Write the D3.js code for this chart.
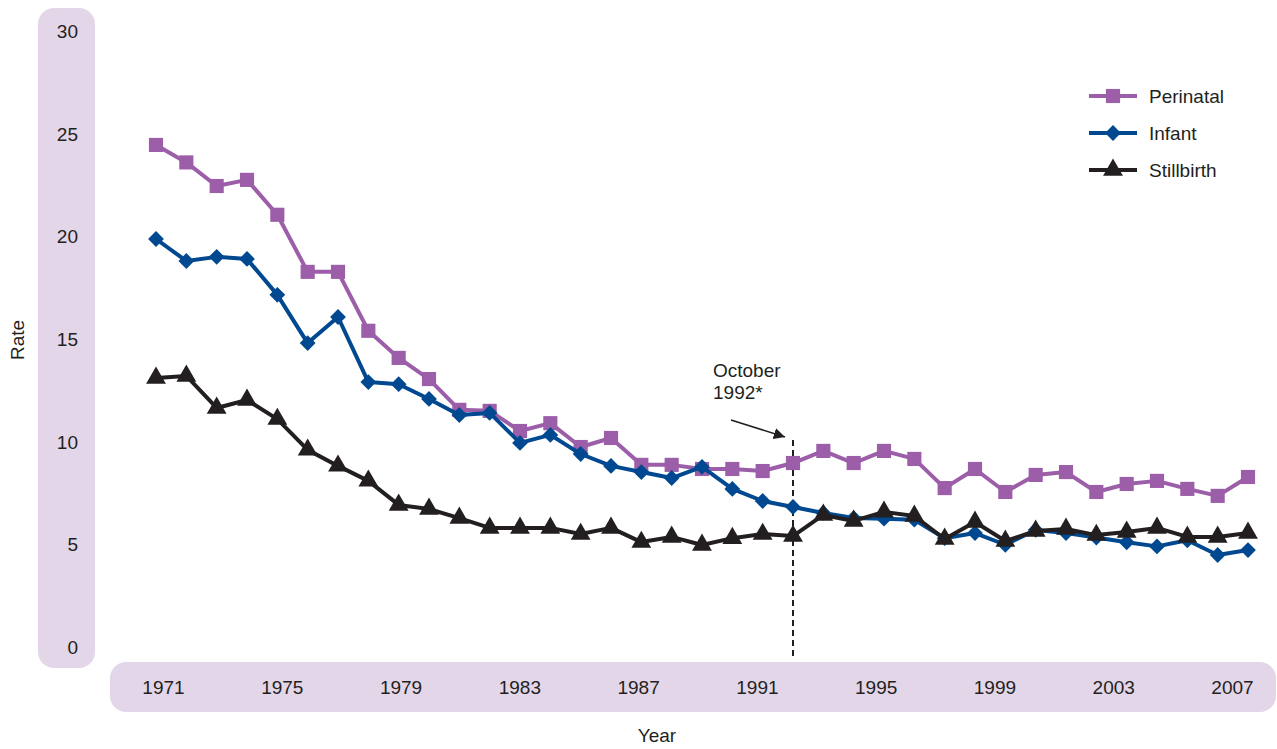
<!DOCTYPE html>
<html>
<head>
<meta charset="utf-8">
<script src="https://cdn.jsdelivr.net/npm/d3@7"></script>
<style>
  body { margin: 0; background: #fff; }
  text { font-family: "Liberation Sans", Arial, sans-serif; fill: #231f20; }
</style>
</head>
<body>
<svg id="chart" width="1277" height="749"></svg>
<script>
// ---- data ----
const years = d3.range(1971, 2008);
const perinatal = [24.45, 23.6, 22.45, 22.75, 21.05, 18.27, 18.27, 15.4, 14.08, 13.05,
  11.55, 11.5, 10.52, 10.9, 9.74, 10.18, 8.87, 8.87, 8.67, 8.67,
  8.57, 8.96, 9.55, 8.96, 9.55, 9.16, 7.74, 8.67, 7.55, 8.38,
  8.52, 7.55, 7.94, 8.09, 7.7, 7.36, 8.28];
const infant = [19.87, 18.8, 19.0, 18.9, 17.15, 14.8, 16.07, 12.9, 12.8, 12.08,
  11.3, 11.4, 9.94, 10.33, 9.4, 8.82, 8.52, 8.23, 8.77, 7.7,
  7.11, 6.82, 6.53, 6.28, 6.25, 6.2, 5.3, 5.55, 4.98, 5.7,
  5.55, 5.33, 5.1, 4.9, 5.2, 4.48, 4.72];
const stillbirth = [13.1, 13.2, 11.64, 12.03, 11.1, 9.6, 8.82, 8.09, 6.92, 6.72,
  6.28, 5.8, 5.8, 5.8, 5.5, 5.8, 5.11, 5.36, 4.97, 5.3,
  5.5, 5.4, 6.43, 6.14, 6.58, 6.38, 5.26, 6.09, 5.16, 5.65,
  5.75, 5.45, 5.6, 5.8, 5.36, 5.36, 5.55];
const yTicks = [0, 5, 10, 15, 20, 25, 30];
const xTicks = [1971, 1975, 1979, 1983, 1987, 1991, 1995, 1999, 2003, 2007];
const markerYear = 1992;

const diamond = { draw: function(ctx, size) {
  let r = Math.sqrt(size / 2);
  ctx.moveTo(0, -r); ctx.lineTo(r, 0); ctx.lineTo(0, r); ctx.lineTo(-r, 0); ctx.closePath();
} };

const series = [
  { name: "Perinatal", values: perinatal, color: "#9c5ea8", symbol: d3.symbolSquare, size: 200 },
  { name: "Infant", values: infant, color: "#004990", symbol: diamond, size: 125 },
  { name: "Stillbirth", values: stillbirth, color: "#231f20", symbol: d3.symbolTriangle, size: 170 }
];

const svg = d3.select("#chart");
const band = "#e3d6e9";
const font = "'Liberation Sans', Arial, sans-serif";

let x = d3.scaleLinear().domain([1971, 2007]).range([156, 1248]);
// tick labels sit on a slightly narrower spacing than the data points
let xLabel = d3.scaleLinear().domain([1971, 2007]).range([163, 1232]);
let y = d3.scaleLinear().domain([0, 30]).range([647, 31]);

// axis bands
svg.append("rect").attr("x", 38).attr("y", 8).attr("width", 57).attr("height", 660)
  .attr("rx", 16).attr("fill", band);
svg.append("rect").attr("x", 110).attr("y", 662).attr("width", 1166).attr("height", 50)
  .attr("rx", 16).attr("fill", band);

// y axis
let yAxis = svg.append("g").attr("transform", "translate(78,0)")
  .call(d3.axisLeft(y).tickValues(yTicks).tickSize(0).tickPadding(0));
yAxis.select(".domain").remove();
yAxis.selectAll("text").style("font-size", "19px").attr("dy", "0.35em")
  .style("font-family", font).attr("fill", "#231f20");

// x axis
let xAxis = svg.append("g").attr("transform", "translate(0,687)")
  .call(d3.axisBottom(xLabel).tickValues(xTicks).tickFormat(d3.format("d")).tickSize(0).tickPadding(0));
xAxis.select(".domain").remove();
xAxis.selectAll("text").style("font-size", "19px").attr("dy", "0.35em")
  .style("font-family", font).attr("fill", "#231f20");

// axis titles
svg.append("text").attr("transform", "translate(24,340) rotate(-90)")
  .attr("text-anchor", "middle").style("font-size", "19px").text("Rate");
svg.append("text").attr("x", 657).attr("y", 742)
  .attr("text-anchor", "middle").style("font-size", "19px").text("Year");

// October 1992 marker
svg.append("line").attr("x1", x(markerYear)).attr("x2", x(markerYear))
  .attr("y1", 440).attr("y2", 660)
  .attr("stroke", "#231f20").attr("stroke-width", 2).attr("stroke-dasharray", "6,4");
svg.append("defs").append("marker").attr("id", "arrow")
  .attr("viewBox", "0 0 10 10").attr("refX", 10).attr("refY", 5)
  .attr("markerWidth", 7).attr("markerHeight", 7).attr("orient", "auto")
  .append("path").attr("d", "M0,0L10,5L0,10z").attr("fill", "#231f20");
svg.append("line").attr("x1", 731).attr("y1", 420).attr("x2", x(markerYear) - 8).attr("y2", 437)
  .attr("stroke", "#231f20").attr("stroke-width", 1.6).attr("marker-end", "url(#arrow)");
svg.append("text").attr("x", 713).attr("y", 377).style("font-size", "19px").text("October");
svg.append("text").attr("x", 713).attr("y", 399).style("font-size", "19px").text("1992*");

// lines
const line = d3.line().x((d, i) => x(years[i])).y(d => y(d));

series.forEach(function(s) {
  svg.append("path").datum(s.values)
    .attr("d", line).attr("fill", "none")
    .attr("stroke", s.color).attr("stroke-width", 4).attr("stroke-linejoin", "round");
  svg.selectAll(null).data(s.values).enter().append("path")
    .attr("d", d3.symbol().type(s.symbol).size(s.size))
    .attr("transform", (d, i) => "translate(" + x(years[i]) + "," + y(d) + ")")
    .attr("fill", s.color);
});

// legend
let legend = svg.append("g").selectAll("g").data(series).enter().append("g")
  .attr("transform", (d, i) => "translate(1089," + (96 + i * 37) + ")");
legend.append("line").attr("x1", 0).attr("x2", 48).attr("y1", 0).attr("y2", 0)
  .attr("stroke", d => d.color).attr("stroke-width", 4);
legend.append("path").attr("d", d => d3.symbol().type(d.symbol).size(d.size)())
  .attr("transform", "translate(24,0)").attr("fill", d => d.color);
legend.append("text").attr("x", 60).attr("dy", "0.35em")
  .style("font-size", "19px").text(d => d.name);
</script>
</body>
</html>
